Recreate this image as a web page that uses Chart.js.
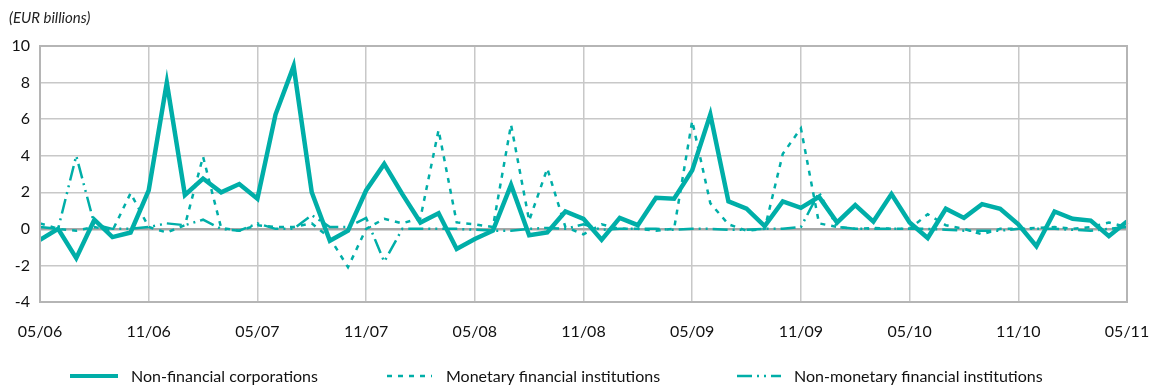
<!DOCTYPE html>
<html>
<head>
<meta charset="utf-8">
<script src="https://cdn.jsdelivr.net/npm/chart.js@4"></script>
<style>
html,body{margin:0;padding:0;background:#fff;}
#wrap{position:relative;width:1149px;height:386px;}
</style>
</head>
<body>
<div id="wrap"><canvas id="c" width="1149" height="386"></canvas></div>
<script>
const months = [
 "05/06","06/06","07/06","08/06","09/06","10/06","11/06","12/06","01/07","02/07","03/07","04/07",
 "05/07","06/07","07/07","08/07","09/07","10/07","11/07","12/07","01/08","02/08","03/08","04/08",
 "05/08","06/08","07/08","08/08","09/08","10/08","11/08","12/08","01/09","02/09","03/09","04/09",
 "05/09","06/09","07/09","08/09","09/09","10/09","11/09","12/09","01/10","02/10","03/10","04/10",
 "05/10","06/10","07/10","08/10","09/10","10/10","11/10","12/10","01/11","02/11","03/11","04/11",
 "05/11"];
const nonFinancialCorporations = [
 -0.6, 0.0, -1.6, 0.5, -0.45, -0.2, 2.1, 8.0, 1.85, 2.75, 2.0, 2.45,
 1.65, 6.25, 8.9, 2.0, -0.65, -0.1, 2.1, 3.55, 1.9, 0.35, 0.85, -1.1,
 -0.55, -0.1, 2.4, -0.35, -0.2, 0.95, 0.55, -0.6, 0.6, 0.2, 1.7, 1.65,
 3.2, 6.25, 1.5, 1.1, 0.15, 1.5, 1.15, 1.75, 0.35, 1.3, 0.4, 1.9,
 0.35, -0.5, 1.1, 0.6, 1.35, 1.1, 0.25, -0.95, 0.95, 0.55, 0.45, -0.4,
 0.4];
const monetaryFinancialInstitutions = [
 0.3, 0.0, -0.1, 0.1, -0.1, 1.95, 0.1, -0.2, 0.2, 3.95, 0.05, -0.1,
 0.2, 0.1, 0.1, 0.3, -0.5, -2.1, 0.0, 0.55, 0.3, 0.6, 5.4, 0.35,
 0.25, 0.1, 5.7, 0.45, 3.3, 0.1, -0.3, 0.25, 0.0, 0.0, -0.1, 0.0,
 5.9, 1.4, 0.25, -0.1, 0.0, 4.1, 5.5, 0.3, 0.1, 0.0, 0.05, 0.0,
 0.0, 0.8, 0.2, 0.0, -0.3, 0.0, 0.0, 0.05, 0.1, 0.0, 0.1, 0.35,
 0.1];
const nonMonetaryFinancialInstitutions = [
 0.1, 0.0, 4.0, 0.25, 0.0, 0.0, 0.1, 0.3, 0.2, 0.5, 0.0, -0.1,
 0.3, 0.0, 0.0, 0.75, 0.1, 0.1, 0.6, -1.8, 0.0, 0.0, 0.0, 0.0,
 -0.05, -0.1, -0.1, 0.0, 0.05, 0.0, 0.25, -0.05, 0.0, 0.0, 0.0, -0.05,
 0.0, 0.0, -0.05, -0.05, 0.0, 0.0, 0.1, 2.0, 0.1, 0.0, 0.0, 0.0,
 0.0, 0.0, -0.05, -0.1, -0.1, -0.1, 0.0, 0.0, 0.0, -0.05, -0.1, 0.0,
 0.1];
const yTicks = [-4, -2, 0, 2, 4, 6, 8, 10];
const seriesNames = ["Non-financial corporations", "Monetary financial institutions", "Non-monetary financial institutions"];
const unitLabel = "(EUR billions)";

const TEAL = "#00aea8";
const FONT = "Lato, 'DejaVu Sans', sans-serif";

const frame = {
  id: 'frame',
  afterDraw(chart) {
    const {ctx, chartArea: a} = chart;
    ctx.save();
    ctx.strokeStyle = '#b5b5b5';
    ctx.lineWidth = 2;
    ctx.strokeRect(a.left, a.top, a.right - a.left, a.bottom - a.top);
    ctx.fillStyle = '#222';
    ctx.font = "italic 15px " + FONT;
    ctx.textBaseline = 'middle';
    ctx.textAlign = 'left';
    ctx.fillText(unitLabel, 9, 18);
    const items = [
      {x1: 70, x2: 118, tx: 131},
      {x1: 387, x2: 432, tx: 446},
      {x1: 737, x2: 781, tx: 794}
    ];
    const y = 376;
    chart.data.datasets.forEach((ds, i) => {
      const it = items[i];
      ctx.beginPath();
      ctx.strokeStyle = ds.borderColor;
      ctx.lineWidth = i === 0 ? 4 : 2.5;
      ctx.setLineDash(ds.borderDash || []);
      ctx.moveTo(it.x1, y);
      ctx.lineTo(it.x2, y);
      ctx.stroke();
      ctx.setLineDash([]);
      ctx.fillStyle = '#111';
      ctx.font = "16px " + FONT;
      ctx.fillText(ds.label, it.tx, y + 1);
    });
    ctx.restore();
  }
};

new Chart(document.getElementById('c'), {
  type: 'line',
  data: {
    labels: months,
    datasets: [
      {label: seriesNames[0], data: nonFinancialCorporations, borderColor: TEAL, borderWidth: 4.5, pointRadius: 0, tension: 0, order: 1},
      {label: seriesNames[1], data: monetaryFinancialInstitutions, borderColor: TEAL, borderWidth: 2.5, borderDash: [5, 6], pointRadius: 0, tension: 0, order: 2},
      {label: seriesNames[2], data: nonMonetaryFinancialInstitutions, borderColor: TEAL, borderWidth: 2.5, borderDash: [15, 5, 2, 5, 2, 5], pointRadius: 0, tension: 0, order: 3}
    ]
  },
  options: {
    responsive: false,
    animation: false,
    layout: {padding: {top: 46, right: 22, bottom: 44, left: 0}},
    plugins: {legend: {display: false}, tooltip: {enabled: false}, title: {display: false}},
    scales: {
      x: {
        type: 'category',
        offset: false,
        afterFit(s) { s.height = 40; s.paddingLeft = 0; s.paddingRight = 0; },
        grid: {
          drawTicks: false,
          color: c => (c.index % 6 === 0) ? '#c8c8c8' : 'rgba(0,0,0,0)',
          lineWidth: 1.5
        },
        border: {display: false},
        ticks: {
          autoSkip: false,
          maxRotation: 0,
          padding: 20,
          color: '#111',
          font: {family: FONT, size: 16},
          callback: function(v, i) { return i % 6 === 0 ? months[i] : ''; }
        }
      },
      y: {
        min: -4, max: 10,
        afterFit(s) { s.width = 40; s.paddingTop = 0; s.paddingBottom = 0; },
        afterBuildTicks(s) { s.ticks = yTicks.map(v => ({value: v})); },
        grid: {
          drawTicks: false,
          color: c => c.tick && c.tick.value === 0 ? '#a8a8a8' : '#c8c8c8',
          lineWidth: c => c.tick && c.tick.value === 0 ? 2.5 : 1.5
        },
        border: {display: false},
        ticks: {
          padding: 10,
          color: '#111',
          font: {family: FONT, size: 16}
        }
      }
    }
  },
  plugins: [frame]
});
</script>
</body>
</html>
